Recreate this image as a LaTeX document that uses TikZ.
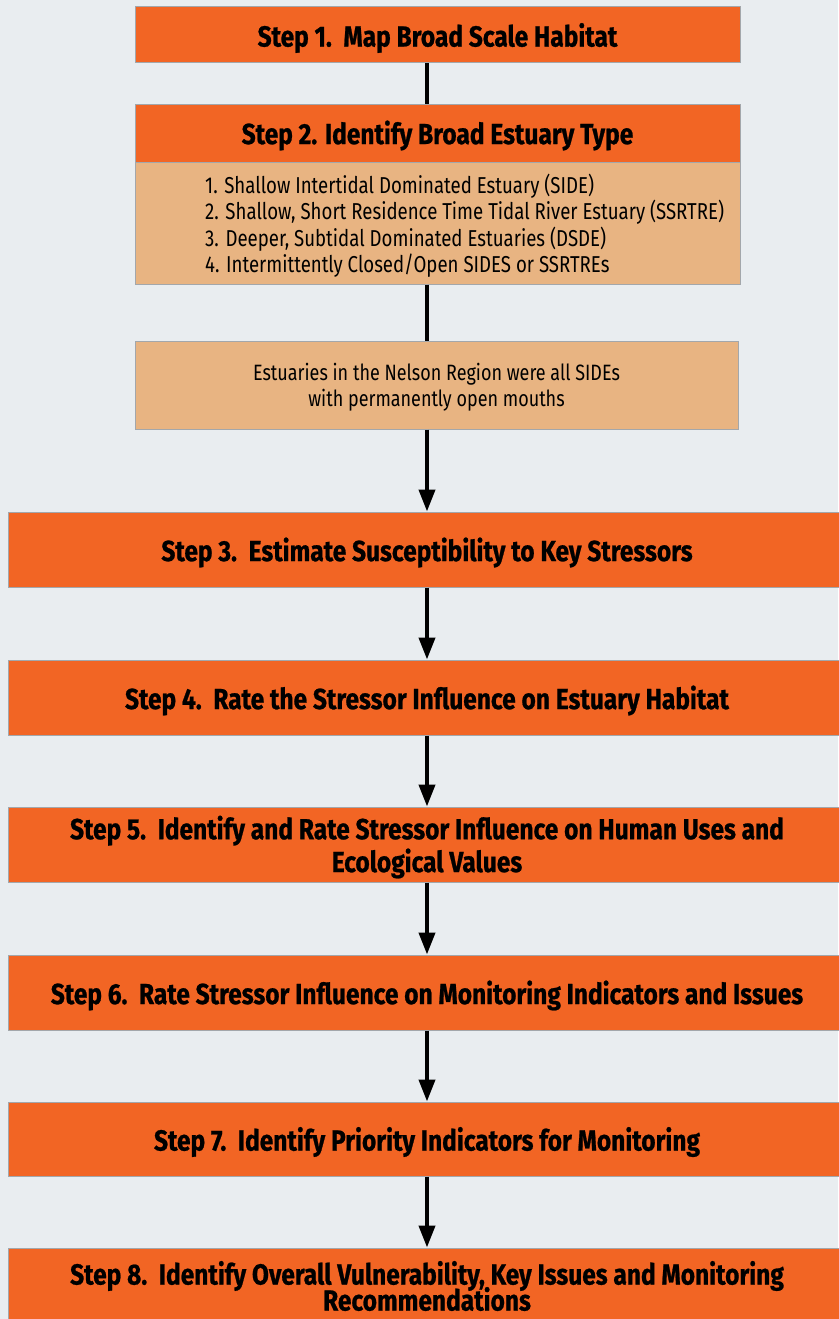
\documentclass[tikz,border=0pt]{standalone}
\usepackage{fontspec}
\setmainfont{Fira Sans}[FakeStretch=0.81]
\newfontfamily\hdrfont{Fira Sans}[FakeStretch=0.845, BoldFeatures={FakeBold=0.8}]
\usetikzlibrary{arrows.meta}
\definecolor{bgc}{HTML}{E9EDF0}
\definecolor{orangec}{HTML}{F26524}
\definecolor{tanc}{HTML}{E8B482}
\definecolor{edgec}{HTML}{A3A7AB}
\newcommand{\lowered}[2]{\raisebox{#1}[\height][\depth]{#2}}
\newcommand{\twolines}[3]{\raisebox{#1}[\height][\depth]{\begin{tabular}{@{}c@{}}#2\\#3\end{tabular}}}
\newcommand{\tightskip}{\lineskiplimit -20pt\lineskip 0pt\relax}
\tikzset{
  stepbox/.style={draw=edgec, line width=1pt, fill=orangec, inner sep=0pt, align=center,
    font=\hdrfont\fontsize{29}{31}\selectfont\bfseries, text=black},
  tanbox/.style={draw=edgec, line width=1pt, fill=tanc, inner sep=0pt, align=center,
    font=\fontsize{22.2}{26}\selectfont, text=black},
  link/.style={line width=4pt, black},
  arr/.style={line width=4pt, black, -{Triangle[width=16pt,length=22pt]}}
}
\begin{document}
\begin{tikzpicture}[x=1pt,y=-1pt]
\fill[bgc] (0,0) rectangle (838,1319);
\useasboundingbox (0,0) rectangle (838,1319);

\node[stepbox, minimum width=605pt, minimum height=56pt] (s1) at (437.5,35) {\lowered{-3pt}{Step 1.\ \ Map Broad Scale Habitat}};
\node[stepbox, minimum width=605pt, minimum height=57pt] (s2h) at (437.5,133.5) {\lowered{-2pt}{Step 2. Identify Broad Estuary Type}};
\node[tanbox, minimum width=605pt, minimum height=122pt] (s2b) at (437.5,223) {};
\node[anchor=west, align=left, inner sep=0pt, font=\fontsize{23}{26.5}\selectfont] (s2l) at (205,225.5) {1. Shallow Intertidal Dominated Estuary (SIDE)\\2. Shallow, Short Residence Time Tidal River Estuary (SSRTRE)\\3. Deeper, Subtidal Dominated Estuaries (DSDE)\\4. Intermittently Closed/Open SIDES or SSRTREs};
\node[tanbox, minimum width=603pt, minimum height=88pt] (nel) at (436.5,385) {\twolines{-3pt}{Estuaries in the Nelson Region were all SIDEs}{with permanently open mouths}};

\node[stepbox, minimum width=838pt, minimum height=75pt] (s3) at (427,549.5) {\lowered{-3pt}{Step 3.\ \ Estimate Susceptibility to Key Stressors}};
\node[stepbox, minimum width=838pt, minimum height=75pt] (s4) at (427,697.5) {\lowered{-3pt}{Step 4.\ \ Rate the Stressor Influence on Estuary Habitat}};
\node[stepbox, minimum width=838pt, minimum height=75pt] (s5) at (427,844.5) {\twolines{-4pt}{Step 5.\ \ Identify and Rate Stressor Influence on Human Uses and}{Ecological Values}};
\node[stepbox, minimum width=838pt, minimum height=75pt] (s6) at (427,992.5) {\lowered{-3pt}{Step 6.\ \ Rate Stressor Influence on Monitoring Indicators and Issues}};
\node[stepbox, minimum width=838pt, minimum height=74pt] (s7) at (427,1139) {\lowered{-3pt}{Step 7.\ \ Identify Priority Indicators for Monitoring}};
\node[stepbox, minimum width=838pt, minimum height=76pt, font=\hdrfont\fontsize{29}{26}\selectfont\bfseries\tightskip] (s8) at (427,1286) {Step 8.\ \ Identify Overall Vulnerability, Key Issues and Monitoring\\Recommendations};

\draw[link] (s1.south -| 427,0) -- (s2h.north -| 427,0);
\draw[link] (s2b.south -| 427,0) -- (nel.north -| 427,0);
\draw[arr] (nel.south -| 427,0) -- (s3.north);
\draw[arr] (s3) -- (s4);
\draw[arr] (s4) -- (s5);
\draw[arr] (s5) -- (s6);
\draw[arr] (s6) -- (s7);
\draw[arr] (s7) -- (s8);
\end{tikzpicture}
\end{document}
